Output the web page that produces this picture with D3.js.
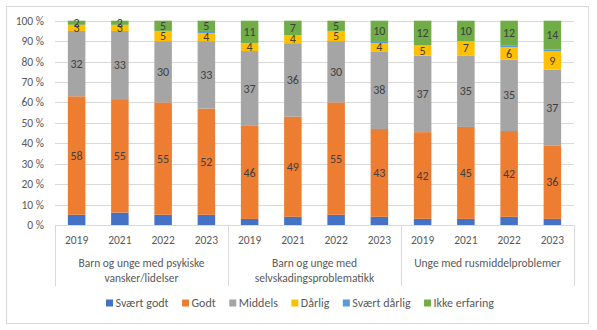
<!DOCTYPE html>
<html>
<head>
<meta charset="utf-8">
<script src="https://cdn.jsdelivr.net/npm/d3@7"></script>
<style>
  body { margin: 0; background: #fff; }
  text { font-family: Calibri, Carlito, "Liberation Sans", Arial, sans-serif; }
</style>
</head>
<body>
<div id="chart"></div>
<script>
// chart data
var groups = [
  ["Barn og unge med psykiske", "vansker/lidelser"],
  ["Barn og unge med", "selvskadingsproblematikk"],
  ["Unge med rusmiddelproblemer"]
];
var years = ["2019", "2021", "2022", "2023"];
var seriesNames = ["Svært godt", "Godt", "Middels", "Dårlig", "Svært dårlig", "Ikke erfaring"];
var colors = ["#4472C4", "#ED7D31", "#A5A5A5", "#FFC000", "#5B9BD5", "#70AD47"];

// one value per bar, order: group1 years, group2 years, group3 years
var svaertGodt   = [5, 6, 5, 5,   3, 4, 5, 4,   3, 3, 4, 3];
var godt         = [58, 55, 55, 52,   46, 49, 55, 43,   42, 45, 42, 36];
var middels      = [32, 33, 30, 33,   37, 36, 30, 38,   37, 35, 35, 37];
var daarlig      = [3, 3, 5, 4,   4, 4, 5, 4,   5, 7, 6, 9];
var svaertDaarlig= [0, 0, 0, 1,   0, 0, 0, 1,   0, 0, 1, 1];
var ikkeErfaring = [2, 2, 5, 5,   11, 7, 5, 10,   12, 10, 12, 14];
var yTicks = [0, 10, 20, 30, 40, 50, 60, 70, 80, 90, 100];
// which series get a data label
var labelled = [false, true, true, true, false, true];

var width = 597, height = 330;
var plotLeft = 55, plotRight = 574, plotTop = 20.7, plotBottom = 225;

var svg = d3.select("#chart").append("svg")
  .attr("width", width).attr("height", height);

// chart border
svg.append("rect")
  .attr("x", 6.5).attr("y", 6.5)
  .attr("width", 582).attr("height", 317)
  .attr("fill", "none").attr("stroke", "#D9D9D9");

var rows = [];
groups.forEach(function (g, gi) {
  years.forEach(function (yr, yi) {
    var i = gi * years.length + yi;
    rows.push({
      key: gi + "-" + yr, group: gi, year: yr,
      "Svært godt": svaertGodt[i], "Godt": godt[i], "Middels": middels[i],
      "Dårlig": daarlig[i], "Svært dårlig": svaertDaarlig[i], "Ikke erfaring": ikkeErfaring[i]
    });
  });
});

var x = d3.scaleBand()
  .domain(rows.map(function (d) { return d.key; }))
  .range([plotLeft, plotRight])
  .paddingInner(0.595).paddingOuter(0.2975);

var y = d3.scaleLinear().domain([0, 1]).range([plotBottom, plotTop]);

// gridlines
svg.append("g").selectAll("line")
  .data(yTicks)
  .enter().append("line")
  .attr("x1", plotLeft).attr("x2", plotRight)
  .attr("y1", function (d) { return Math.round(y(d / 100)) + 0.5; })
  .attr("y2", function (d) { return Math.round(y(d / 100)) + 0.5; })
  .attr("stroke", "#D9D9D9").attr("stroke-width", 1);

// y labels
svg.append("g").selectAll("text")
  .data(yTicks)
  .enter().append("text")
  .attr("x", 44)
  .attr("y", function (d) { return y(d / 100); })
  .attr("dy", "0.35em")
  .attr("text-anchor", "end")
  .attr("font-size", 11.5)
  .attr("fill", "#595959")
  .text(function (d) { return d + " %"; });

var stack = d3.stack().keys(seriesNames).offset(d3.stackOffsetExpand);
var layers = stack(rows);

var layerG = svg.append("g").selectAll("g")
  .data(layers)
  .enter().append("g")
  .attr("fill", function (d, i) { return colors[i]; });

layerG.selectAll("rect")
  .data(function (d) { return d; })
  .enter().append("rect")
  .attr("x", function (d) { return x(d.data.key); })
  .attr("width", x.bandwidth())
  .attr("y", function (d) { return y(d[1]); })
  .attr("height", function (d) { return y(d[0]) - y(d[1]); });

// data labels
layers.forEach(function (layer, li) {
  if (!labelled[li]) return;
  svg.append("g").selectAll("text")
    .data(layer.filter(function (d) { return d.data[layer.key] > 0; }))
    .enter().append("text")
    .attr("x", function (d) { return x(d.data.key) + x.bandwidth() / 2; })
    .attr("y", function (d) { return (y(d[0]) + y(d[1])) / 2; })
    .attr("dy", "0.35em")
    .attr("text-anchor", "middle")
    .attr("font-size", 12)
    .attr("fill", "#404040")
    .text(function (d) { return d.data[layer.key]; });
});

// category axis line
svg.append("line")
  .attr("x1", plotLeft).attr("x2", plotRight)
  .attr("y1", plotBottom + 0.5).attr("y2", plotBottom + 0.5)
  .attr("stroke", "#D9D9D9");

// group separators
var groupW = (plotRight - plotLeft) / groups.length;
d3.range(groups.length + 1).forEach(function (i) {
  var gx = Math.round(plotLeft + i * groupW) + 0.5;
  svg.append("line")
    .attr("x1", gx).attr("x2", gx)
    .attr("y1", plotBottom).attr("y2", 286)
    .attr("stroke", "#D9D9D9");
});

// year labels
svg.append("g").selectAll("text")
  .data(rows)
  .enter().append("text")
  .attr("x", function (d) { return x(d.key) + x.bandwidth() / 2; })
  .attr("y", 240)
  .attr("dy", "0.35em")
  .attr("text-anchor", "middle")
  .attr("font-size", 11.5)
  .attr("fill", "#595959")
  .text(function (d) { return d.year; });

// group labels
groups.forEach(function (lines, gi) {
  lines.forEach(function (ln, li) {
    svg.append("text")
      .attr("x", plotLeft + (gi + 0.5) * groupW)
      .attr("y", 263 + li * 15)
      .attr("dy", "0.35em")
      .attr("text-anchor", "middle")
      .attr("font-size", 11.5)
      .attr("fill", "#595959")
      .text(ln);
  });
});

// legend: spread items over the same span as the original (x 106..494)
var legendStart = 106, legendEnd = 494;
var legend = svg.append("g").attr("transform", "translate(0,303)");
var items = seriesNames.map(function (name, i) {
  var item = legend.append("g");
  item.append("rect")
    .attr("x", 0).attr("y", -3.5)
    .attr("width", 7).attr("height", 7)
    .attr("fill", colors[i]);
  var t = item.append("text")
    .attr("x", 9.5).attr("y", 0)
    .attr("dy", "0.35em")
    .attr("font-size", 12)
    .attr("fill", "#595959")
    .text(name);
  return { g: item, w: 9.5 + t.node().getComputedTextLength() };
});
var used = d3.sum(items, function (d) { return d.w; });
var gap = (legendEnd - legendStart - used) / (items.length - 1);
var lx = legendStart;
items.forEach(function (it) {
  it.g.attr("transform", "translate(" + lx + ",0)");
  lx += it.w + gap;
});
</script>
</body>
</html>
